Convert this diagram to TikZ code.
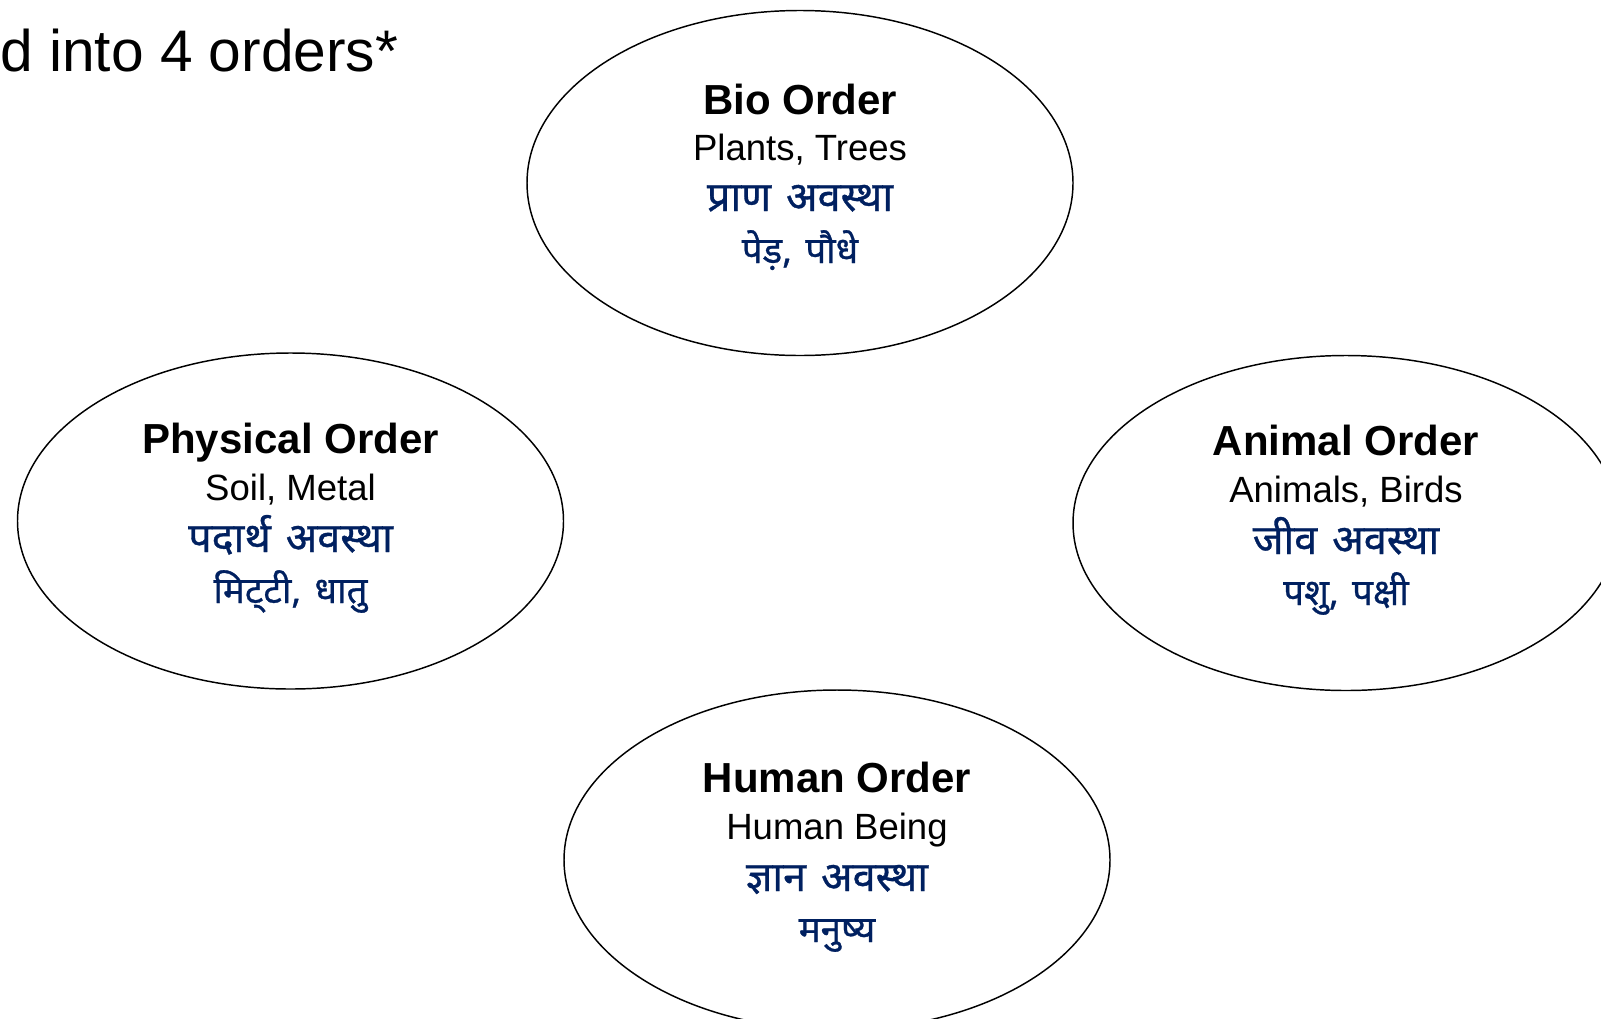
\documentclass[tikz,border=0pt]{standalone}
\usepackage{fontspec}
\usetikzlibrary{shapes.geometric}
\setmainfont{Liberation Sans}
\newfontfamily\hindi[Script=Devanagari,FakeBold=0.8,WordSpace=1.4]{Noto Sans}
\definecolor{navy}{RGB}{0,32,96}
\begin{document}
\begin{tikzpicture}[x=0.75pt,y=-0.75pt,
  orderell/.style={draw=black,line width=1.1pt,ellipse,minimum width=546*0.75pt,inner sep=0pt},
  headtxt/.style={anchor=base,inner sep=0pt,font=\fontsize{31.5}{36}\selectfont\bfseries},
  subtxt/.style={anchor=base,inner sep=0pt,font=\fontsize{27.4}{32}\selectfont},
  hinditxt/.style={anchor=base,inner sep=0pt,text=navy,font=\fontsize{31}{36}\selectfont\hindi},
  hindismall/.style={anchor=base,inner sep=0pt,text=navy,font=\fontsize{27.5}{32}\selectfont\hindi}]
\useasboundingbox (0,0) rectangle (1601,1018);
\clip (0,0) rectangle (1601,1018);
\fill[white] (0,0) rectangle (1601,1018);
\node[anchor=base west,inner sep=0pt,font=\fontsize{44}{50}\selectfont] (title) at (0,71.5) {d into 4 orders*};
% ellipses
\node[orderell,minimum height=345*0.75pt] (bio) at (800,183) {};
\node[orderell,minimum height=336*0.75pt] (phys) at (290.5,521) {};
\node[orderell,minimum height=335*0.75pt] (animal) at (1346,523) {};
\node[orderell,minimum height=340*0.75pt] (human) at (837,860) {};
% Bio
\node[headtxt] (bioh) at ([yshift=69*0.75pt]bio.center) {Bio Order};
\node[subtxt] (bios) at ([yshift=23*0.75pt]bio.center) {Plants, Trees};
\node[hinditxt] (bioa) at ([yshift=-28*0.75pt]bio.center) {प्राण अवस्था};
\node[hindismall] (biob) at ([yshift=-80*0.75pt]bio.center) {पेड़, पौधे};
% Physical
\node[headtxt] (physh) at ([yshift=68*0.75pt]phys.center) {Physical Order};
\node[subtxt] (physs) at ([yshift=21*0.75pt]phys.center) {Soil, Metal};
\node[hinditxt] (physa) at ([yshift=-31*0.75pt]phys.center) {पदार्थ अवस्था};
\node[hindismall] (physb) at ([yshift=-82*0.75pt]phys.center) {मिट्^^^^200cटी, धातु};
% Animal
\node[headtxt] (animh) at ([yshift=68*0.75pt]animal.center) {Animal Order};
\node[subtxt] (anims) at ([yshift=21*0.75pt]animal.center) {Animals, Birds};
\node[hinditxt] (anima) at ([yshift=-31*0.75pt]animal.center) {जीव अवस्था};
\node[hindismall] (animb) at ([yshift=-82*0.75pt]animal.center) {पशु, पक्षी};
% Human
\node[headtxt] (humh) at ([yshift=68*0.75pt]human.center) {Human Order};
\node[subtxt] (hums) at ([yshift=21*0.75pt]human.center) {Human Being};
\node[hinditxt] (huma) at ([yshift=-31*0.75pt]human.center) {ज्ञान अवस्था};
\node[hindismall] (humb) at ([yshift=-82*0.75pt]human.center) {मनुष्य};
\end{tikzpicture}
\end{document}
